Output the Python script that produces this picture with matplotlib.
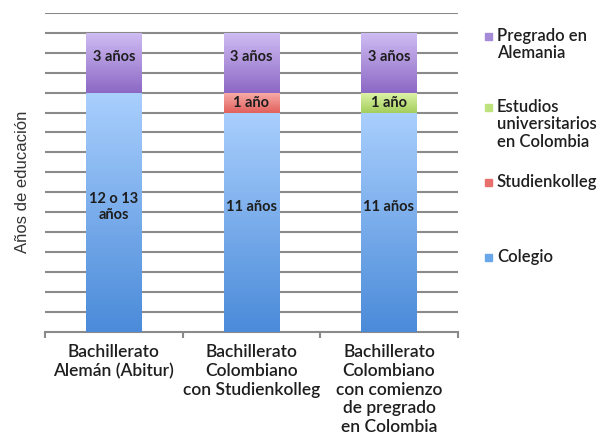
import numpy as np
import matplotlib
matplotlib.use('Agg')
import matplotlib.pyplot as plt
from matplotlib.colors import to_rgb

# data
categories = ["Bachillerato\nAlemán (Abitur)",
              "Bachillerato\nColombiano\ncon Studienkolleg",
              "Bachillerato\nColombiano\ncon comienzo\nde pregrado\nen Colombia"]
series_names = ["Colegio", "Studienkolleg", "Estudios\nuniversitarios\nen Colombia", "Pregrado en\nAlemania"]
colegio = [12, 11, 11]
studienkolleg = [0, 1, 0]
estudios_col = [0, 0, 1]
pregrado = [3, 3, 3]
colegio_labels = ["12 o 13\naños", "11 años", "11 años"]
studienkolleg_labels = ["", "1 año", ""]
estudios_labels = ["", "", "1 año"]
pregrado_labels = ["3 años", "3 años", "3 años"]

# (top colour, bottom colour, legend colour)
styles = [("#a9cffd", "#4b8bd9", "#6aa6ea"),
          ("#f7aaa6", "#e2605c", "#e8706c"),
          ("#dcf2a6", "#a4ce5c", "#bde27e"),
          ("#cfbcf3", "#8c68c4", "#a58ad8")]
label_shift = [0.3, -0.15, -0.15, 0.3]

plt.rcParams['font.family'] = ['Lato', 'DejaVu Sans']
text_col = '#1e1e1e'

fig = plt.figure(figsize=(6, 4.42), dpi=100)
ax = fig.add_axes([0.075, 0.249, 0.688, 0.722])

x = np.arange(len(categories))
values = [colegio, studienkolleg, estudios_col, pregrado]
labels = [colegio_labels, studienkolleg_labels, estudios_labels, pregrado_labels]
bottom = np.zeros(len(categories))

for vals, labs, (top, bot, _), shift in zip(values, labels, styles, label_shift):
    bars = ax.bar(x, vals, 0.4, bottom=bottom, zorder=3, linewidth=0)
    grad = np.linspace(0, 1, 100)[:, None, None]
    img = (1 - grad) * np.array(to_rgb(top)) + grad * np.array(to_rgb(bot))
    for b, lab in zip(bars, labs):
        if b.get_height() == 0:
            continue
        bx, by, bw, bh = b.get_x(), b.get_y(), b.get_width(), b.get_height()
        im = ax.imshow(img, extent=[bx, bx + bw, by, by + bh], aspect='auto',
                       origin='upper', zorder=3, interpolation='bilinear')
        im.set_clip_path(b)
        b.set_facecolor('none')
        ty = by + bh / 2 + (shift if bh > 2 else 0)
        if lab == "12 o 13\naños":
            ty = by + bh / 2 + 0.25
        elif bh > 5:
            ty = by + bh / 2 + 0.75
        ax.text(b.get_x() + bw / 2, ty, lab, ha='center', va='center',
                fontsize=10.5, fontweight='bold', color=text_col, zorder=5,
                linespacing=1.15)
    bottom = bottom + np.array(vals)

ax.set_xlim(-0.5, 2.5)
ax.set_ylim(0, 16)
ax.set_yticks(np.arange(1, 17))
ax.set_yticklabels([])
ax.tick_params(axis='y', length=0)
ax.grid(axis='y', color='#8a8a8a', linewidth=1.5, zorder=0)
ax.set_axisbelow(True)
for s in ['top', 'right', 'left']:
    ax.spines[s].set_visible(False)
ax.spines['bottom'].set_color('#8a8a8a')
ax.spines['bottom'].set_linewidth(1.5)

ax.set_xticks([-0.5, 0.5, 1.5, 2.5])
ax.set_xticklabels([])
ax.tick_params(axis='x', which='major', length=4, width=1.5, color='#8a8a8a')
ax.set_xticks(x, minor=True)
ax.set_xticklabels(categories, minor=True, fontsize=12.5, color=text_col,
                   linespacing=1.2, fontweight='semibold')
ax.tick_params(axis='x', which='minor', length=0, pad=9)

ax.set_ylabel("Años de educación", fontsize=12, color='#333333',
              family=['Liberation Sans', 'DejaVu Sans'], labelpad=4)
ax.yaxis.set_label_coords(-0.036, 0.47)

# legend (marker aligned to first line of each entry)
leg_y = [258, 183, 108, 37]
for name, (_, _, c), py in zip(series_names, styles, leg_y):
    fy = 1 - py / 442
    fig.text(0.828, fy + 0.021, name, fontsize=12, color=text_col, va='top',
             linespacing=1.12, fontweight='semibold')
    fig.patches.append(plt.Rectangle((0.809, fy - 0.007), 0.011, 0.015,
                                     transform=fig.transFigure, color=c, figure=fig))

fig.savefig('out.png', dpi=100)
